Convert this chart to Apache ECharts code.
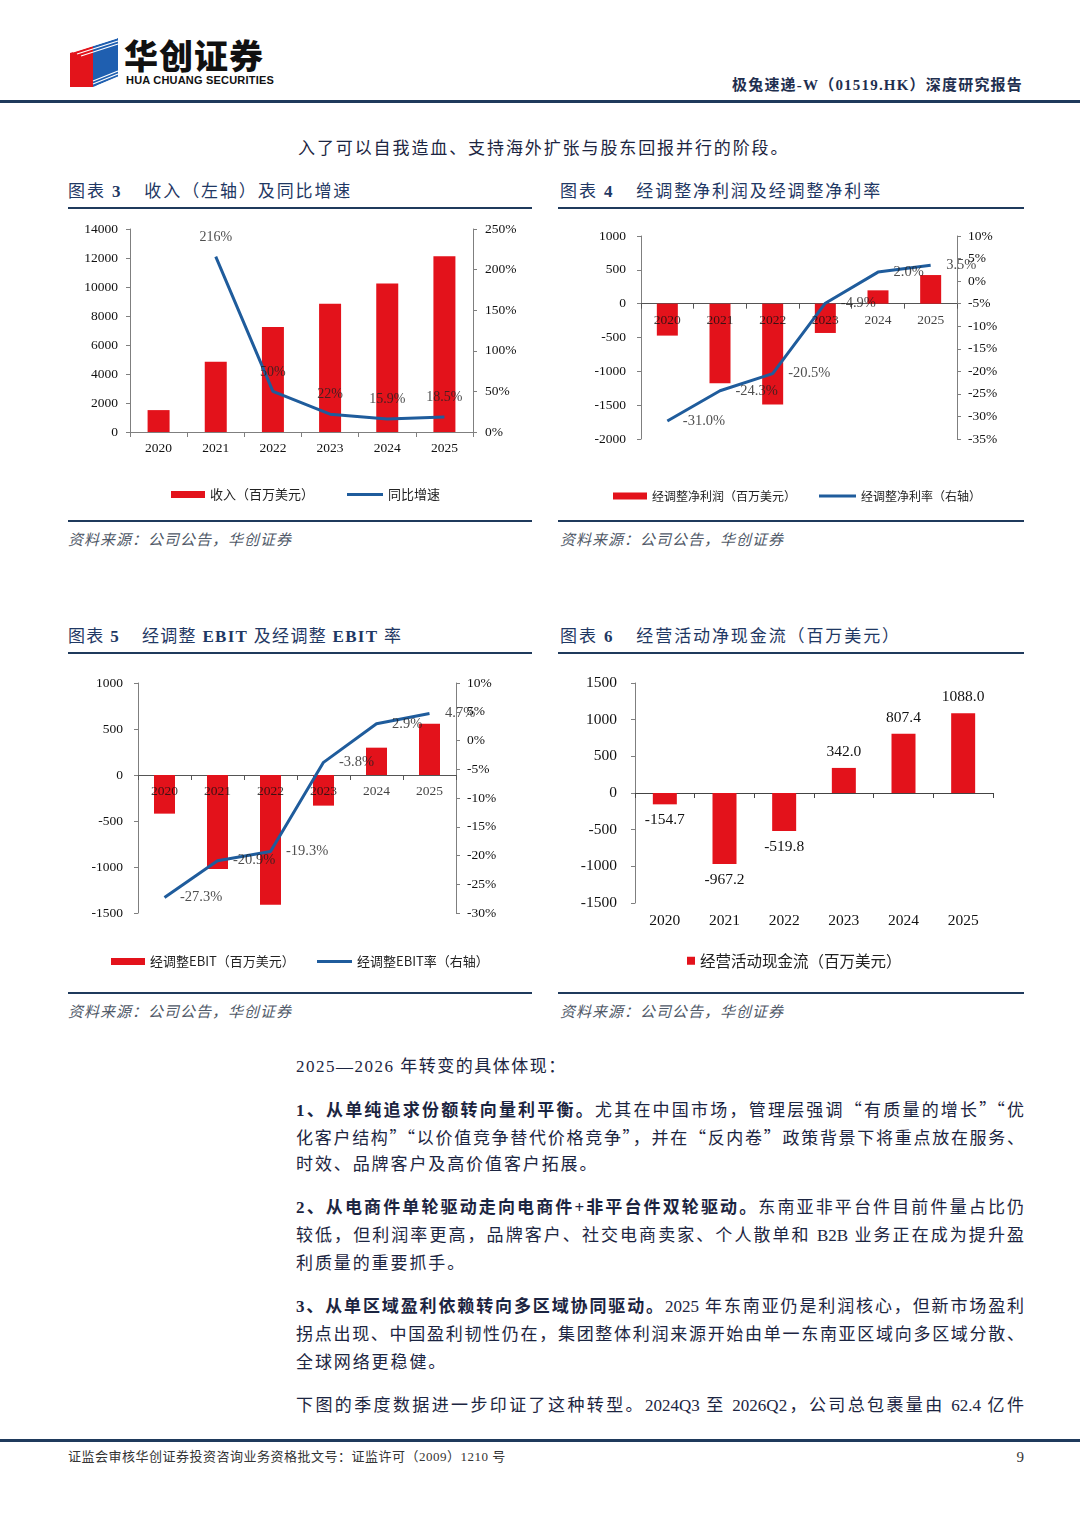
<!DOCTYPE html>
<html><head><meta charset="utf-8">
<script src="https://cdn.jsdelivr.net/npm/echarts@6/dist/echarts.min.js"></script>
<style>
html,body{margin:0;padding:0;background:#fff;}
body{width:1080px;height:1527px;position:relative;overflow:hidden;font-family:"Liberation Serif","Noto Sans CJK SC",serif;}
.abs{position:absolute;white-space:nowrap;}
.title{font-size:17px;color:#1f3864;letter-spacing:1.9px;line-height:20px;}
.title b{font-weight:700;}
.gap{display:inline-block;width:22px;}
.rule{position:absolute;background:#1f3a5c;}
.src{font-size:15px;font-style:italic;color:#4f5968;letter-spacing:1px;line-height:18px;}
.txt{font-size:17px;color:#1c2541;line-height:20px;}
.j{width:728px;text-align:justify;text-align-last:justify;}
.s{letter-spacing:1.9px;}
.q{font-family:"Noto Sans CJK SC";font-feature-settings:"fwid";}
.chart{position:absolute;}
</style></head><body>

<!-- logo -->
<svg class="abs" style="left:69px;top:37px" width="52" height="52" viewBox="0 0 52 52">
  <polygon points="1,16 24,9 24,50 1,50" fill="#e3141b"/>
  <polygon points="24,9 49,1 49,40 24,50" fill="#1f5fb0"/>
  <g stroke="#fff" stroke-width="1.3">
    <line x1="4" y1="15" x2="48" y2="1"/>
    <line x1="8" y1="17" x2="49" y2="4"/>
    <line x1="12" y1="19" x2="49" y2="7"/>
    <line x1="24" y1="44" x2="49" y2="34"/>
    <line x1="24" y1="47" x2="49" y2="37"/>
    <line x1="28" y1="49" x2="49" y2="40"/>
  </g>
</svg>
<div class="abs" style="left:124px;top:37px;font-family:'Noto Sans CJK SC';font-weight:900;font-size:34px;line-height:36px;color:#111;letter-spacing:1px;">华创证券</div>
<div class="abs" style="left:126px;top:74px;font-family:'Liberation Sans';font-weight:700;font-size:11px;line-height:12px;color:#111;letter-spacing:0.2px;">HUA CHUANG SECURITIES</div>

<div class="abs" style="right:57px;top:75px;font-size:15px;line-height:20px;color:#1f2f4f;font-weight:700;letter-spacing:1.2px;">极兔速递-W（01519.HK）深度研究报告</div>
<div class="rule" style="left:0;top:100px;width:1080px;height:3px;"></div>

<div class="abs txt s" style="left:298px;top:139px;">入了可以自我造血、支持海外扩张与股东回报并行的阶段。</div>

<!-- titles row 1 -->
<div class="abs title" style="left:68px;top:182px;">图表 <b>3</b><span class="gap"></span>收入（左轴）及同比增速</div>
<div class="rule" style="left:68px;top:207px;width:464px;height:2px;"></div>
<div class="abs title" style="left:560px;top:182px;">图表 <b>4</b><span class="gap"></span>经调整净利润及经调整净利率</div>
<div class="rule" style="left:558px;top:207px;width:466px;height:2px;"></div>

<div id="c3" class="chart" style="left:60px;top:212px;width:480px;height:300px;"></div>
<div id="c4" class="chart" style="left:555px;top:212px;width:480px;height:300px;"></div>

<div class="rule" style="left:68px;top:520px;width:464px;height:2px;"></div>
<div class="rule" style="left:558px;top:520px;width:466px;height:2px;"></div>
<div class="abs src" style="left:68px;top:531px;">资料来源：公司公告，华创证券</div>
<div class="abs src" style="left:560px;top:531px;">资料来源：公司公告，华创证券</div>

<!-- titles row 2 -->
<div class="abs title" style="left:68px;top:627px;letter-spacing:1.3px;">图表 <b>5</b><span class="gap"></span>经调整 <b>EBIT</b> 及经调整 <b>EBIT</b> 率</div>
<div class="rule" style="left:68px;top:652px;width:464px;height:2px;"></div>
<div class="abs title" style="left:560px;top:627px;">图表 <b>6</b><span class="gap"></span>经营活动净现金流（百万美元）</div>
<div class="rule" style="left:558px;top:652px;width:466px;height:2px;"></div>

<div id="c5" class="chart" style="left:60px;top:660px;width:480px;height:320px;"></div>
<div id="c6" class="chart" style="left:555px;top:660px;width:480px;height:320px;"></div>

<div class="rule" style="left:68px;top:992px;width:464px;height:2px;"></div>
<div class="rule" style="left:558px;top:992px;width:466px;height:2px;"></div>
<div class="abs src" style="left:68px;top:1003px;">资料来源：公司公告，华创证券</div>
<div class="abs src" style="left:560px;top:1003px;">资料来源：公司公告，华创证券</div>

<!-- body text -->
<div class="abs txt s" style="left:296px;top:1057px;letter-spacing:1.5px;">2025—2026 年转变的具体体现：</div>
<div class="abs txt j" style="left:296px;top:1099px;"><b>1、从单纯追求份额转向量利平衡。</b>尤其在中国市场，管理层强调<span class="q">“</span>有质量的增长<span class="q">”“</span>优</div>
<div class="abs txt j" style="left:296px;top:1127px;">化客户结构<span class="q">”“</span>以价值竞争替代价格竞争<span class="q">”</span>，并在<span class="q">“</span>反内卷<span class="q">”</span>政策背景下将重点放在服务、</div>
<div class="abs txt s" style="left:296px;top:1155px;">时效、品牌客户及高价值客户拓展。</div>
<div class="abs txt j" style="left:296px;top:1198px;"><b>2、从电商件单轮驱动走向电商件+非平台件双轮驱动。</b>东南亚非平台件目前件量占比仍</div>
<div class="abs txt j" style="left:296px;top:1226px;">较低，但利润率更高，品牌客户、社交电商卖家、个人散单和 B2B 业务正在成为提升盈</div>
<div class="abs txt s" style="left:296px;top:1254px;">利质量的重要抓手。</div>
<div class="abs txt j" style="left:296px;top:1297px;"><b>3、从单区域盈利依赖转向多区域协同驱动。</b>2025 年东南亚仍是利润核心，但新市场盈利</div>
<div class="abs txt j" style="left:296px;top:1325px;">拐点出现、中国盈利韧性仍在，集团整体利润来源开始由单一东南亚区域向多区域分散、</div>
<div class="abs txt s" style="left:296px;top:1353px;">全球网络更稳健。</div>
<div class="abs txt j" style="left:296px;top:1396px;">下图的季度数据进一步印证了这种转型。2024Q3 至 2026Q2，公司总包裹量由 62.4 亿件</div>

<!-- footer -->
<div class="rule" style="left:0;top:1439px;width:1080px;height:3px;"></div>
<div class="abs" style="left:68px;top:1449px;font-size:13px;line-height:16px;color:#333;letter-spacing:0.5px;">证监会审核华创证券投资咨询业务资格批文号：证监许可（2009）1210 号</div>
<div class="abs" style="right:56px;top:1448px;font-size:15px;line-height:18px;color:#333;">9</div>

<script>
// ---------- data ----------
const years = ['2020', '2021', '2022', '2023', '2024', '2025'];

const revenue = [1510, 4850, 7250, 8840, 10240, 12120];        // 收入（百万美元）
const revenueYoY = [null, 2.16, 0.50, 0.22, 0.159, 0.185];      // 同比增速

const adjNetProfit = [-472, -1176, -1490, -433, 197, 423];      // 经调整净利润（百万美元）
const adjNetMargin = [-0.310, -0.243, -0.205, -0.049, 0.020, 0.035]; // 经调整净利率

const adjEbit = [-420, -1022, -1410, -333, 297, 558];           // 经调整EBIT（百万美元）
const adjEbitMargin = [-0.273, -0.209, -0.193, -0.038, 0.029, 0.047]; // 经调整EBIT率

const opCashFlow = [-154.7, -967.2, -519.8, 342.0, 807.4, 1088.0]; // 经营活动现金流（百万美元）

const revAxis = [0, 14000, 2000];
const revYoYAxis = [0, 2.5, 0.5];
const npAxis = [-2000, 1000, 500];
const npMarginAxis = [-0.35, 0.10, 0.05];
const ebitAxis = [-1500, 1000, 500];
const ebitMarginAxis = [-0.30, 0.10, 0.05];
const cfAxis = [-1500, 1500, 500];

const names3 = ['收入（百万美元）', '同比增速'];
const names4 = ['经调整净利润（百万美元）', '经调整净利率（右轴）'];
const names5 = ['经调整EBIT（百万美元）', '经调整EBIT率（右轴）'];
const names6 = ['经营活动现金流（百万美元）'];

// ---------- styles ----------
const RED = '#E3121B';
const BLUE = '#1F5C9C';
const AXC = '#7f7f7f';
const NUM = 'Liberation Serif';
const CJK = 'Noto Sans CJK SC';

const plain = v => String(v);
const pctAxis = v => Math.round(v * 100) + '%';
const pctMixed = v => { const p = Math.round(v * 1000) / 10; return (Number.isInteger(p) ? p : p.toFixed(1)) + '%'; };
const pct1 = v => (v * 100).toFixed(1) + '%';

function valAxis(range, side, fmt, margin, fontSize) {
  return {
    type: 'value', position: side, min: range[0], max: range[1], interval: range[2],
    axisLine: { show: true, onZero: false, lineStyle: { color: AXC, width: 1 } },
    axisTick: { show: true, length: 4, inside: false, lineStyle: { color: AXC } },
    splitLine: { show: false },
    axisLabel: { show: true, margin: margin, fontSize: fontSize, fontFamily: NUM, color: '#111', formatter: fmt }
  };
}
function catAxis(onZero, lineColor, margin, fontSize, showLabel) {
  return {
    type: 'category', data: years, position: 'bottom',
    axisLine: { show: true, onZero: onZero, lineStyle: { color: lineColor, width: 1 } },
    axisTick: { show: true, alignWithLabel: false, length: 5, inside: false, lineStyle: { color: lineColor } },
    splitLine: { show: false },
    axisLabel: { show: showLabel, margin: margin, fontSize: fontSize, fontFamily: NUM, color: '#111', interval: 0 }
  };
}
function legendOne(left, top, fontSize, name, w, h, color) {
  return {
    show: true, left: left, top: top, orient: 'horizontal', itemGap: 0,
    itemWidth: w, itemHeight: h, itemStyle: { borderWidth: 0 },
    textStyle: { fontFamily: CJK, fontSize: fontSize, color: '#222' },
    data: [{ name: name, icon: 'rect', itemStyle: { color: color, borderWidth: 0 } }]
  };
}
// invisible carriers for point labels, placed by the chart's own scales
function labelCarrier(data, yIdx, position, distance, fmt, fontSize) {
  return {
    type: 'scatter', data: data, yAxisIndex: yIdx, symbol: 'circle', symbolSize: 1, silent: true, z: 5,
    itemStyle: { color: 'rgba(0,0,0,0)' },
    label: { show: true, position: position, distance: distance, fontFamily: NUM, fontSize: fontSize, color: '#222', formatter: fmt }
  };
}
// category labels sitting at the zero line
function zeroCatLabels(fontSize) {
  return {
    type: 'scatter', data: years.map(y => [y, 0]), yAxisIndex: 0, symbol: 'circle', symbolSize: 1, silent: true, z: 6,
    itemStyle: { color: 'rgba(0,0,0,0)' },
    label: { show: true, position: 'bottom', distance: 9, fontFamily: NUM, fontSize: fontSize, color: '#111', formatter: p => p.value[0] }
  };
}

// ---------- chart 3 ----------
const c3 = echarts.init(document.getElementById('c3'), null, { renderer: 'canvas' });
c3.setOption({
  animation: false,
  grid: { left: 70, right: 67, top: 17, bottom: 80, outerBoundsMode: 'none' },
  legend: [legendOne(106, 271, 13, names3[0], 34, 7, RED), legendOne(282, 271, 13, names3[1], 36, 3, BLUE)],
  xAxis: catAxis(false, AXC, 9, 13.5, true),
  yAxis: [valAxis(revAxis, 'left', plain, 12, 13.5), valAxis(revYoYAxis, 'right', pctAxis, 12, 13.5)],
  series: [
    { type: 'bar', name: names3[0], data: revenue, barWidth: 22, itemStyle: { color: RED } },
    { type: 'line', name: names3[1], yAxisIndex: 1, data: revenueYoY, symbol: 'none',
      lineStyle: { color: BLUE, width: 3 }, itemStyle: { color: BLUE } },
    labelCarrier(revenueYoY, 1, 'top', 12, p => pctMixed(p.value), 14)
  ]
});

// ---------- chart 4 ----------
const c4 = echarts.init(document.getElementById('c4'), null, { renderer: 'canvas' });
c4.setOption({
  animation: false,
  grid: { left: 86, right: 78, top: 24, bottom: 73, outerBoundsMode: 'none' },
  legend: [legendOne(53, 273, 12, names4[0], 34, 7, RED), legendOne(259, 273, 12, names4[1], 37, 3, BLUE)],
  xAxis: catAxis(true, '#555', 10, 13.5, false),
  yAxis: [valAxis(npAxis, 'left', plain, 15, 13.5), valAxis(npMarginAxis, 'right', pctAxis, 11, 13.5)],
  series: [
    { type: 'bar', name: names4[0], data: adjNetProfit, barWidth: 21, itemStyle: { color: RED } },
    { type: 'line', name: names4[1], yAxisIndex: 1, data: adjNetMargin, symbol: 'none',
      lineStyle: { color: BLUE, width: 3 }, itemStyle: { color: BLUE } },
    zeroCatLabels(13.5),
    labelCarrier(adjNetMargin, 1, 'right', 15, p => pct1(p.value), 14.5)
  ]
});

// ---------- chart 5 ----------
const c5 = echarts.init(document.getElementById('c5'), null, { renderer: 'canvas' });
c5.setOption({
  animation: false,
  grid: { left: 78, right: 84, top: 23, bottom: 67, outerBoundsMode: 'none' },
  legend: [legendOne(46, 290, 13, names5[0], 34, 7, RED), legendOne(252, 290, 13, names5[1], 35, 3, BLUE)],
  xAxis: catAxis(true, '#555', 10, 13.5, false),
  yAxis: [valAxis(ebitAxis, 'left', plain, 15, 13.5), valAxis(ebitMarginAxis, 'right', pctAxis, 11, 13.5)],
  series: [
    { type: 'bar', name: names5[0], data: adjEbit, barWidth: 21, itemStyle: { color: RED } },
    { type: 'line', name: names5[1], yAxisIndex: 1, data: adjEbitMargin, symbol: 'none',
      lineStyle: { color: BLUE, width: 3 }, itemStyle: { color: BLUE } },
    zeroCatLabels(13.5),
    labelCarrier(adjEbitMargin, 1, 'right', 15, p => pct1(p.value), 14.5)
  ]
});

// ---------- chart 6 ----------
const c6 = echarts.init(document.getElementById('c6'), null, { renderer: 'canvas' });
const x6line = catAxis(true, '#444', 10, 15.5, false);
const x6lab = catAxis(false, AXC, 10, 15.5, true);
x6lab.axisLine.show = false; x6lab.axisTick.show = false;
c6.setOption({
  animation: false,
  grid: { left: 80, right: 42, top: 23, bottom: 77, outerBoundsMode: 'none' },
  legend: legendOne(127, 288, 15.5, names6[0], 8, 8, RED),
  xAxis: [x6line, x6lab],
  yAxis: valAxis(cfAxis, 'left', plain, 18, 15.5),
  series: [
    { type: 'bar', name: names6[0], xAxisIndex: 0, data: opCashFlow, barWidth: 24, itemStyle: { color: RED },
      label: { show: true, position: 'outside', distance: 8, fontFamily: NUM, fontSize: 15.5, color: '#111',
        formatter: p => p.value.toFixed(1) } }
  ]
});
</script>
</body></html>
